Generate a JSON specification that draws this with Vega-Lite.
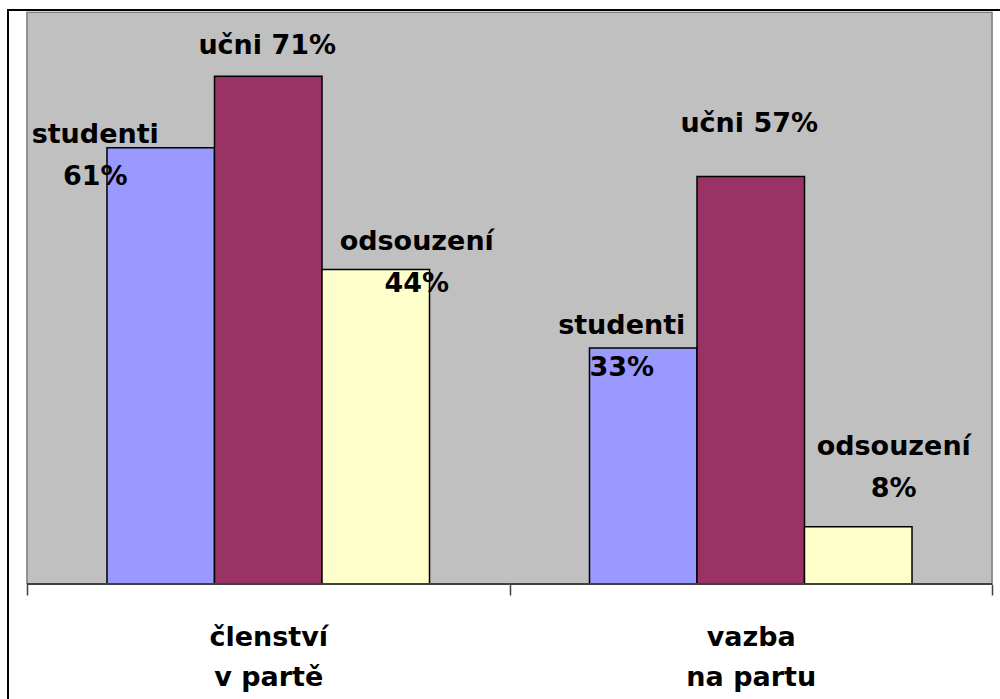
{
  "$schema": "https://vega.github.io/schema/vega-lite/v6.json",
  "width": 1003,
  "height": 691,
  "autosize": {"type": "none"},
  "padding": {"left": 8, "top": 10, "right": 0, "bottom": 0},
  "background": "white",
  "config": {
    "view": {"stroke": "#000000", "strokeWidth": 2},
    "font": "DejaVu Sans"
  },
  "data": {
    "values": [
      {"category": "členství\nv partě", "series": "studenti", "value": 61},
      {"category": "členství\nv partě", "series": "učni", "value": 71},
      {"category": "členství\nv partě", "series": "odsouzení", "value": 44},
      {"category": "vazba\nna partu", "series": "studenti", "value": 33},
      {"category": "vazba\nna partu", "series": "učni", "value": 57},
      {"category": "vazba\nna partu", "series": "odsouzení", "value": 8}
    ]
  },
  "transform": [
    {"calculate": "datum.series == 'učni' ? datum.series + ' ' + datum.value + '%' : datum.series + '\\n' + datum.value + '%'", "as": "lbl"}
  ],
  "layer": [
    {
      "transform": [{"filter": {"field": "series", "equal": "studenti"}}],
      "mark": {"type": "rect", "fill": "#C0C0C0", "stroke": "#C0C0C0", "strokeWidth": 1.5},
      "encoding": {
        "x": {
          "field": "category", "type": "nominal", "title": null,
          "scale": {"domain": ["členství\nv partě", "vazba\nna partu"], "paddingInner": 0, "paddingOuter": 0.03938},
          "axis": {
            "offset": -117, "domain": false, "tickBand": "extent", "tickSize": 11,
            "tickColor": "#404040", "tickWidth": 1.5, "grid": false, "labelAngle": 0,
            "labelFont": "DejaVu Sans", "labelFontSize": 27, "labelFontWeight": "bold",
            "labelColor": "#000000", "labelBaseline": "alphabetic", "labelPadding": 50,
            "labelLineHeight": 40, "labelExpr": "split(datum.label, '\\n')"
          }
        },
        "y": {"datum": 80, "type": "quantitative", "scale": {"domain": [-16.3636, 80.2797], "nice": false, "zero": false}, "axis": null},
        "y2": {"datum": 0}
      }
    },
    {
      "transform": [{"filter": {"field": "series", "equal": "studenti"}}],
      "mark": {"type": "rect", "fill": "#808080"},
      "encoding": {
        "x": {"field": "category", "type": "nominal", "title": null},
        "y": {"datum": 80, "type": "quantitative", "axis": null},
        "y2": {"datum": 79.86}
      }
    },
    {
      "transform": [{"filter": {"field": "series", "equal": "studenti"}}, {"filter": {"field": "category", "equal": "členství\nv partě"}}],
      "mark": {"type": "rule", "stroke": "#808080", "strokeWidth": 1.5},
      "encoding": {
        "x": {"field": "category", "type": "nominal", "title": null, "bandPosition": 0},
        "y": {"datum": 0, "type": "quantitative", "axis": null},
        "y2": {"datum": 80}
      }
    },
    {
      "transform": [{"filter": {"field": "series", "equal": "studenti"}}, {"filter": {"field": "category", "equal": "vazba\nna partu"}}],
      "mark": {"type": "rule", "stroke": "#808080", "strokeWidth": 1.5},
      "encoding": {
        "x": {"field": "category", "type": "nominal", "title": null, "bandPosition": 1},
        "y": {"datum": 0, "type": "quantitative", "axis": null},
        "y2": {"datum": 80}
      }
    },
    {
      "mark": {"type": "bar", "stroke": "#000000", "strokeWidth": 1.5},
      "encoding": {
        "x": {"field": "category", "type": "nominal", "title": null},
        "xOffset": {"field": "series", "type": "nominal", "scale": {"domain": ["studenti", "učni", "odsouzení"], "paddingInner": 0, "paddingOuter": 0.744}},
        "y": {"field": "value", "type": "quantitative", "axis": null},
        "color": {"field": "series", "type": "nominal", "scale": {"domain": ["studenti", "učni", "odsouzení"], "range": ["#9999FF", "#993366", "#FFFFCC"]}, "legend": null}
      }
    },
    {
      "transform": [{"filter": {"field": "series", "equal": "studenti"}}],
      "mark": {"type": "rect", "fill": "#404040"},
      "encoding": {
        "x": {"field": "category", "type": "nominal", "title": null},
        "y": {"datum": 0.14, "type": "quantitative", "axis": null},
        "y2": {"datum": -0.14}
      }
    },
    {
      "transform": [{"filter": {"field": "series", "equal": "studenti"}}, {"filter": {"field": "category", "equal": "členství\nv partě"}}],
      "mark": {"type": "text", "align": "center", "baseline": "alphabetic", "font": "DejaVu Sans", "fontSize": 27, "fontWeight": "bold", "lineHeight": 42, "lineBreak": "\n", "color": "#000000", "dx": -65.5, "dy": -5},
      "encoding": {
        "x": {"field": "category", "type": "nominal", "title": null},
        "xOffset": {"field": "series", "type": "nominal"},
        "y": {"field": "value", "type": "quantitative", "axis": null},
        "text": {"field": "lbl"}
      }
    },
    {
      "transform": [{"filter": {"field": "series", "equal": "učni"}}, {"filter": {"field": "category", "equal": "členství\nv partě"}}],
      "mark": {"type": "text", "align": "center", "baseline": "alphabetic", "font": "DejaVu Sans", "fontSize": 27, "fontWeight": "bold", "lineHeight": 42, "lineBreak": "\n", "color": "#000000", "dx": -1, "dy": -22},
      "encoding": {
        "x": {"field": "category", "type": "nominal", "title": null},
        "xOffset": {"field": "series", "type": "nominal"},
        "y": {"field": "value", "type": "quantitative", "axis": null},
        "text": {"field": "lbl"}
      }
    },
    {
      "transform": [{"filter": {"field": "series", "equal": "odsouzení"}}, {"filter": {"field": "category", "equal": "členství\nv partě"}}],
      "mark": {"type": "text", "align": "center", "baseline": "alphabetic", "font": "DejaVu Sans", "fontSize": 27, "fontWeight": "bold", "lineHeight": 42, "lineBreak": "\n", "color": "#000000", "dx": 41, "dy": -19},
      "encoding": {
        "x": {"field": "category", "type": "nominal", "title": null},
        "xOffset": {"field": "series", "type": "nominal"},
        "y": {"field": "value", "type": "quantitative", "axis": null},
        "text": {"field": "lbl"}
      }
    },
    {
      "transform": [{"filter": {"field": "series", "equal": "studenti"}}, {"filter": {"field": "category", "equal": "vazba\nna partu"}}],
      "mark": {"type": "text", "align": "center", "baseline": "alphabetic", "font": "DejaVu Sans", "fontSize": 27, "fontWeight": "bold", "lineHeight": 42, "lineBreak": "\n", "color": "#000000", "dx": -21.5, "dy": -14},
      "encoding": {
        "x": {"field": "category", "type": "nominal", "title": null},
        "xOffset": {"field": "series", "type": "nominal"},
        "y": {"field": "value", "type": "quantitative", "axis": null},
        "text": {"field": "lbl"}
      }
    },
    {
      "transform": [{"filter": {"field": "series", "equal": "učni"}}, {"filter": {"field": "category", "equal": "vazba\nna partu"}}],
      "mark": {"type": "text", "align": "center", "baseline": "alphabetic", "font": "DejaVu Sans", "fontSize": 27, "fontWeight": "bold", "lineHeight": 42, "lineBreak": "\n", "color": "#000000", "dx": -1.5, "dy": -44},
      "encoding": {
        "x": {"field": "category", "type": "nominal", "title": null},
        "xOffset": {"field": "series", "type": "nominal"},
        "y": {"field": "value", "type": "quantitative", "axis": null},
        "text": {"field": "lbl"}
      }
    },
    {
      "transform": [{"filter": {"field": "series", "equal": "odsouzení"}}, {"filter": {"field": "category", "equal": "vazba\nna partu"}}],
      "mark": {"type": "text", "align": "center", "baseline": "alphabetic", "font": "DejaVu Sans", "fontSize": 27, "fontWeight": "bold", "lineHeight": 42, "lineBreak": "\n", "color": "#000000", "dx": 35.5, "dy": -72},
      "encoding": {
        "x": {"field": "category", "type": "nominal", "title": null},
        "xOffset": {"field": "series", "type": "nominal"},
        "y": {"field": "value", "type": "quantitative", "axis": null},
        "text": {"field": "lbl"}
      }
    }
  ]
}
